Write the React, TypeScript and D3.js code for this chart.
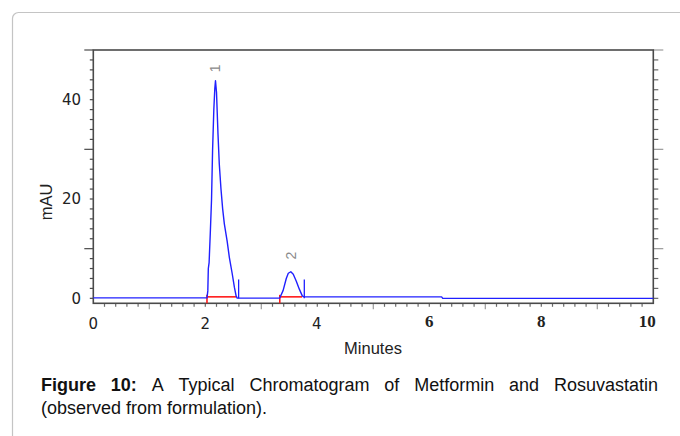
import React, { useMemo } from "react";
import * as d3 from "d3";

// Chromatogram trace (minutes, mAU)
const TIME = [
  0, 2.03, 2.045, 2.054, 2.068, 2.089, 2.111, 2.13, 2.152, 2.17, 2.182, 2.2, 2.227, 2.25, 2.28,
  2.31, 2.34, 2.39, 2.43, 2.48, 2.52, 2.55, 2.57, 3.33, 3.39, 3.446, 3.482, 3.527, 3.571, 3.625,
  3.679, 3.732, 3.76, 6.22, 6.24, 10,
];
const ABSORBANCE = [
  0.1, 0.1, 1.5, 6.0, 7.2, 13.1, 19.8, 29.8, 37.9, 42.3, 43.8, 41.5, 33, 27, 22,
  18, 15, 11.5, 8.2, 5, 2.2, 0.5, 0.05, 0.05, 1.6, 4.0, 5.05, 5.35, 4.85, 3.45,
  1.85, 0.5, 0.3, 0.3, 0.0, 0.0,
];

// Integration info
const PEAK_NAMES = ["1", "2"];
const PEAK_APEX = [2.182, 3.527];
const PEAK_LABEL_LEVEL = [46.3, 8.6];
const PEAK_START = [2.03, 3.33];
const PEAK_END = [2.55, 3.73];
const PEAK_MARKER = [2.595, 3.768];
const BASELINE_LEVEL = [0.3, 0.3];
const MARKER_TOP = 3.8;

const X_DOMAIN = [0, 10];
const Y_DOMAIN = [-1, 50];
const X_TICK_LABELS = [0, 2, 4, 6, 8, 10];
const Y_TICK_LABELS = [0, 20, 40];
const X_TITLE = "Minutes";
const Y_TITLE = "mAU";

const CAPTION_BOLD = ["Figure", "10:"];
const CAPTION_WORDS = ["A", "Typical", "Chromatogram", "of", "Metformin", "and", "Rosuvastatin"];
const CAPTION_LINE2 = "(observed from formulation).";

const W = 680;
const H = 436;
const L = 93.3, R = 653.3, T = 50, B = 303.3;

export default function App() {
  const x = d3.scaleLinear().domain(X_DOMAIN).range([L, R]);
  const y = d3.scaleLinear().domain(Y_DOMAIN).range([B, T]);

  const pts = TIME.map((t, i) => [t, ABSORBANCE[i]] as [number, number]);
  const line = d3.line<[number, number]>().x((d) => x(d[0])).y((d) => y(d[1]));

  const xMinor = d3.range(0, 50).map((i) => (i + 1) * 0.2).filter((t) => t < 9.99);
  const yMinor = d3.range(0, 26).map((i) => i * 2);

  const capFont = 18;
  const captionLayout = useMemo(() => {
    const c = document.createElement("canvas").getContext("2d");
    const words = [
      ...CAPTION_BOLD.map((w) => ({ w, bold: true })),
      ...CAPTION_WORDS.map((w) => ({ w, bold: false })),
    ];
    const widths = words.map(({ w, bold }) => {
      if (!c) return w.length * 9;
      c.font = `${bold ? "bold " : ""}${capFont}px "Liberation Sans", Arial, sans-serif`;
      return c.measureText(w).width;
    });
    const x0 = 41, x1 = 658;
    const total = widths.reduce((a, b) => a + b, 0);
    const gap = (x1 - x0 - total) / (words.length - 1);
    let cx = x0;
    return words.map((wd, i) => {
      const r = { ...wd, x: cx };
      cx += widths[i] + gap;
      return r;
    });
  }, []);

  const axisColor = "#4a4a4a";
  const tickColor = "#6a6a6a";

  return (
    <svg
      width={W}
      height={H}
      style={{ position: "absolute", left: 0, top: 0, background: "#fff" }}
      fontFamily='"Liberation Sans", Arial, sans-serif'
    >
      <rect x={12.5} y={12.5} width={720} height={480} rx={6} fill="none" stroke="#c4c4c4" strokeWidth={1.2} />

      {/* left ticks */}
      {yMinor.map((v) => {
        const major = v % 20 === 10 || v === 50;
        return (
          <line key={"yl" + v} x1={L - (major ? 9 : 3.5)} x2={L} y1={y(v)} y2={y(v)} stroke={axisColor} strokeWidth={1.2} />
        );
      })}
      {/* right ticks */}
      {yMinor.map((v) => {
        const major = v % 20 === 10 || v === 50;
        return (
          <line key={"yr" + v} x1={R} x2={R + (major ? 10 : 5)} y1={y(v)} y2={y(v)} stroke={major ? "#9a9a9a" : tickColor} strokeWidth={1.2} />
        );
      })}
      {/* bottom ticks */}
      {xMinor.map((t, i) => {
        const major = Math.abs(t - Math.round(t)) < 1e-6 && Math.round(t) % 2 === 1;
        return (
          <line key={"xb" + i} x1={x(t)} x2={x(t)} y1={B} y2={B + (major ? 6 : 3.5)} stroke={major ? "#9a9a9a" : tickColor} strokeWidth={1.2} />
        );
      })}

      {/* plot frame */}
      <rect x={L} y={T} width={R - L} height={B - T} fill="none" stroke={axisColor} strokeWidth={1.6} />

      {/* y labels */}
      {Y_TICK_LABELS.map((v) => (
        <text key={"ylab" + v} x={81} y={y(v)} dy="0.36em" textAnchor="end" fontFamily='"DejaVu Sans", sans-serif' fontSize={15} fill="#222">
          {v}
        </text>
      ))}
      {/* x labels */}
      {X_TICK_LABELS.map((v) =>
        v >= 6 ? (
          <text key={"xlab" + v} x={x(v) - (v === 10 ? 6 : 0)} y={327} textAnchor="middle" fontFamily='"Liberation Serif", serif' fontWeight="bold" fontSize={17} fill="#222">
            {v}
          </text>
        ) : (
          <text key={"xlab" + v} x={x(v) + (v === 4 ? -0.5 : 0)} y={329} textAnchor="middle" fontFamily='"DejaVu Sans", sans-serif' fontSize={15} fill="#222">
            {v}
          </text>
        )
      )}

      <text x={373} y={354} textAnchor="middle" fontSize={16.5} fill="#222">
        {X_TITLE}
      </text>
      <text transform="translate(52,202) rotate(-90)" textAnchor="middle" fontSize={16.5} fill="#222">
        {Y_TITLE}
      </text>

      {/* red integration baselines */}
      {PEAK_START.map((s, i) => (
        <g key={"base" + i}>
          <line x1={x(s)} x2={x(PEAK_END[i])} y1={y(BASELINE_LEVEL[i])} y2={y(BASELINE_LEVEL[i])} stroke="#ff1a1a" strokeWidth={1.6} />
          <line x1={x(s)} x2={x(s)} y1={y(0.7)} y2={y(-1)} stroke="#ff1a1a" strokeWidth={1.6} />
        </g>
      ))}

      {/* trace */}
      <path d={line(pts) || ""} fill="none" stroke="#2020ff" strokeWidth={1.4} strokeLinejoin="round" />

      {/* peak end markers */}
      {PEAK_MARKER.map((t, i) => (
        <line key={"mk" + i} x1={x(t)} x2={x(t)} y1={y(0)} y2={y(MARKER_TOP)} stroke="#2020ff" strokeWidth={1.3} />
      ))}

      {/* peak labels */}
      {PEAK_NAMES.map((n, i) => (
        <text
          key={"pl" + i}
          transform={`translate(${x(PEAK_APEX[i]) + 5},${y(PEAK_LABEL_LEVEL[i])}) rotate(-90)`}
          textAnchor="middle"
          fontSize={14}
          fill="#8a8a8a"
        >
          {n}
        </text>
      ))}

      {/* caption */}
      {captionLayout.map((w, i) => (
        <text key={"cw" + i} x={w.x} y={391} fontSize={capFont} fontWeight={w.bold ? "bold" : "normal"} fill="#111">
          {w.w}
        </text>
      ))}
      <text x={41} y={414} fontSize={capFont} fill="#111">
        {CAPTION_LINE2}
      </text>
    </svg>
  );
}
